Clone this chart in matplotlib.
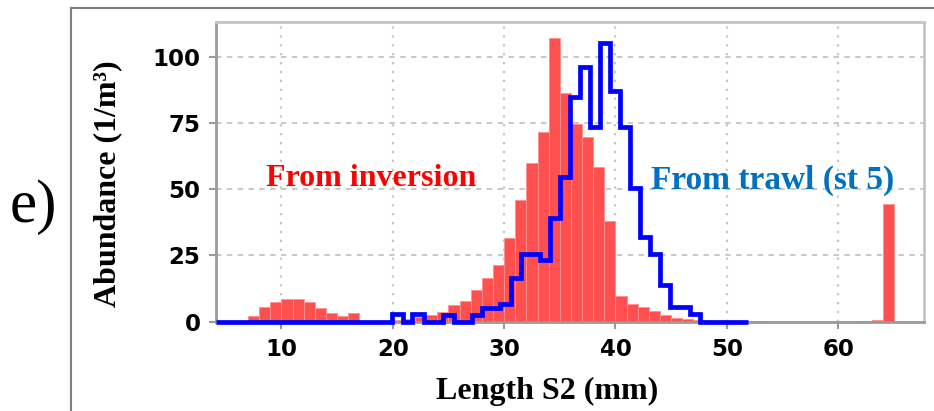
#!/usr/bin/env python3

import matplotlib
matplotlib.use('Agg')
import matplotlib.pyplot as plt
from matplotlib.lines import Line2D

#-------------------------------------------------------------------------------
# data
#-------------------------------------------------------------------------------

# inversion result, 1 mm bins (left edge of each bin)
inversion_length = list(range(4, 65))
inversion_abundance = [0.0, 0.0, 0.3, 2.1, 5.6, 7.5, 8.5, 8.5, 7.3, 5.0,     # 4..13
                       3.2, 2.1, 3.2, 0.3, 0.2, 0.2, 0.6, 1.0, 1.6, 2.5,     # 14..23
                       3.5, 6.2, 7.8, 12.0, 16.4, 21.4, 31.6, 45.9, 60.0, 71.5,  # 24..33
                       107.0, 86.3, 74.4, 69.7, 58.5, 38.1, 9.5, 6.8, 5.6, 3.9,  # 34..43
                       2.6, 1.5, 1.0, 0.5, 0.3, 0.3, 0.3, 0.2, 0.1, 0.1,     # 44..53
                       0.0, 0.0, 0.0, 0.0, 0.0, 0.0, 0.0, 0.1, 0.3, 0.5,     # 54..63
                       44.4]                                                 # 64

# trawl catch (station 5), step outline
trawl_edges = [4.1, 19.9, 20.9, 21.7, 22.8, 24.5, 25.5, 27.1, 28.0, 29.6,
               30.6, 31.5, 33.2, 34.1, 35.0, 35.9, 36.8, 37.7, 38.6, 39.5,
               40.4, 41.3, 42.2, 43.1, 44.0, 44.9, 46.7, 47.6, 51.9]
trawl_abundance = [0.0, 2.8, 0.0, 2.8, 0.0, 2.6, 0.0, 2.6, 5.1, 6.8,
                   16.4, 25.4, 23.2, 39.0, 54.7, 84.7, 96.0, 73.3, 105.2, 86.9,
                   73.3, 50.3, 32.1, 25.4, 13.9, 5.5, 2.8, 0.0]

xticks = [10, 20, 30, 40, 50, 60]
yticks = [0, 25, 50, 75, 100]

#-------------------------------------------------------------------------------
# plot
#-------------------------------------------------------------------------------

fig = plt.figure(figsize=(9.34, 4.11), dpi=100)
ax = fig.add_axes([0.2309, 0.2173, 0.7584, 0.7284])

ax.bar(inversion_length, inversion_abundance, width=1.0, align='edge',
       color='#ff5050', edgecolor='#ff9090', linewidth=0.6, zorder=2)
ax.stairs(trawl_abundance, trawl_edges, baseline=None, color='#0000ff',
          linewidth=3.4, zorder=4, clip_on=False)

ax.set_xlim(4.1, 67.7)
ax.set_ylim(0, 112.9)
ax.set_xticks(xticks)
ax.set_yticks(yticks)

# grid: dotted verticals, dashed horizontals
ax.xaxis.grid(True, linestyle=(0, (1, 3)), color='#c4c4c4', linewidth=1.6, zorder=0)
ax.yaxis.grid(True, linestyle=(0, (3, 3)), color='#c4c4c4', linewidth=1.3, zorder=0)
ax.set_axisbelow(True)

for side in ['left', 'bottom']:
    ax.spines[side].set_color('#9a9a9a')
    ax.spines[side].set_linewidth(2.0)
for side in ['top', 'right']:
    ax.spines[side].set_color('#c4c4c4')
    ax.spines[side].set_linewidth(2.0)

ax.tick_params(axis='both', which='major', direction='out', length=5, width=1.5,
               color='#9a9a9a', labelsize=16.5)
ax.tick_params(axis='y', pad=6)
ax.tick_params(axis='x', pad=7)
for lbl in ax.get_xticklabels() + ax.get_yticklabels():
    lbl.set_fontweight('bold')
    lbl.set_family('DejaVu Sans')

serif = 'Liberation Serif'
ax.set_xlabel('Length S2 (mm)', family=serif, fontweight='bold', fontsize=23)
ax.xaxis.set_label_coords(0.4685, -0.183)
ax.set_ylabel('Abundance (1/m³)', family=serif, fontweight='bold', fontsize=23, va='center')
ax.yaxis.set_label_coords(-0.153, 0.46)

ax.text(18.1, 54.1, 'From inversion', color='#ff0000', family=serif,
        fontweight='bold', fontsize=23, ha='center', va='center', zorder=5)
ax.text(54.1, 53.3, 'From trawl (st 5)', color='#0070c0', family=serif,
        fontweight='bold', fontsize=24, ha='center', va='center', zorder=5)

# panel letter and the panel frame (left and top edge)
fig.text(33 / 934, 1 - 207 / 411, 'e)', family=serif, fontsize=44,
         ha='center', va='center')
fig.add_artist(Line2D([70.7 / 934, 70.7 / 934], [0, 1 - 8.3 / 411],
                      color='#7f7f7f', linewidth=1.5))
fig.add_artist(Line2D([70.7 / 934, 1], [1 - 8.3 / 411, 1 - 8.3 / 411],
                      color='#7f7f7f', linewidth=1.5))

fig.savefig('out.png', dpi=100)
plt.close(fig)
